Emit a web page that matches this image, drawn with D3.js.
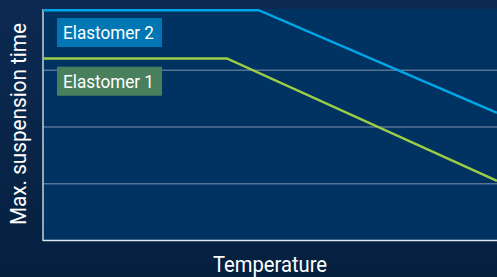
<!DOCTYPE html>
<html><head><meta charset="utf-8">
<script src="https://cdn.jsdelivr.net/npm/d3@7"></script>
<style>html,body{margin:0;padding:0;background:#0a2647;}svg{display:block;}</style>
</head><body>
<script>
const seriesNames = ["Elastomer 2", "Elastomer 1"];
const temperature2 = [0, 47.5, 100];
const suspension2 = [4.05, 4.05, 2.24];
const temperature1 = [0, 40.5, 100];
const suspension1 = [3.2, 3.2, 1.04];
const yTicks = [1, 2, 3];
const xLabel = "Temperature";
const yLabel = "Max. suspension time";
const colors = ["#00a7e6", "#9dcd45"];
const boxColors = ["#0077b4", "#4a7f5e"];

const W = 497, H = 277;
const m = {left: 43, right: 0, top: 9, bottom: 37};
const svg = d3.select("body").append("svg").attr("width", W).attr("height", H);
const defs = svg.append("defs");
const g0 = defs.append("linearGradient").attr("id","bg").attr("x1",0).attr("y1",0).attr("x2",0).attr("y2",1);
g0.append("stop").attr("offset","0%").attr("stop-color","#0c2a52");
g0.append("stop").attr("offset","100%").attr("stop-color","#05203f");
svg.append("rect").attr("width", W).attr("height", H).attr("fill", "url(#bg)");

const x = d3.scaleLinear().domain([0, 100]).range([m.left, W - m.right]);
const y = d3.scaleLinear().domain([0, 4]).range([240, 13]);

svg.append("rect").attr("x", m.left).attr("y", m.top).attr("width", W - m.left).attr("height", 240 - m.top).attr("fill", "#003362");

// gridlines
svg.append("g").attr("transform", `translate(${m.left},0)`)
  .call(d3.axisLeft(y).tickValues(yTicks).tickSize(-(W - m.left)).tickFormat(""))
  .call(g => g.select(".domain").remove())
  .call(g => g.selectAll("line").attr("stroke", "#567394").attr("stroke-width", 1.5));

// axes lines
svg.append("line").attr("x1", m.left).attr("x2", m.left).attr("y1", m.top).attr("y2", 241).attr("stroke", "#c5d2e0").attr("stroke-width", 1.5);
svg.append("line").attr("x1", m.left).attr("x2", W).attr("y1", 240.5).attr("y2", 240.5).attr("stroke", "#dfe6ee").attr("stroke-width", 1.5);

const line = d3.line().x(d => x(d[0])).y(d => y(d[1]));
const data = [d3.zip(temperature2, suspension2), d3.zip(temperature1, suspension1)];
data.forEach((d, i) => {
  svg.append("path").datum(d).attr("d", line).attr("fill", "none").attr("stroke", colors[i]).attr("stroke-width", 2.5);
});

// label boxes
const boxY = [18, 66.7];
seriesNames.forEach((n, i) => {
  svg.append("rect").attr("x", 57).attr("y", boxY[i]).attr("width", 105).attr("height", 29).attr("fill", boxColors[i]);
  svg.append("text").attr("x", 63).attr("y", boxY[i] + 21.3).attr("fill", "#fff")
    .attr("font-family", "Roboto, sans-serif").attr("font-size", 19)
    .attr("textLength", 91).attr("lengthAdjust", "spacingAndGlyphs").text(n);
});

svg.append("text").attr("x", 270).attr("y", 271.7).attr("text-anchor", "middle").attr("fill", "#fff")
  .attr("font-family", "Roboto, sans-serif").attr("font-size", 21.5)
  .attr("textLength", 114).attr("lengthAdjust", "spacingAndGlyphs").text(xLabel);

svg.append("text").attr("transform", "translate(25.5,124) rotate(-90)").attr("text-anchor", "middle").attr("fill", "#fff")
  .attr("font-family", "Roboto, sans-serif").attr("font-size", 22)
  .attr("textLength", 202).attr("lengthAdjust", "spacingAndGlyphs").text(yLabel);
</script>
</body></html>
